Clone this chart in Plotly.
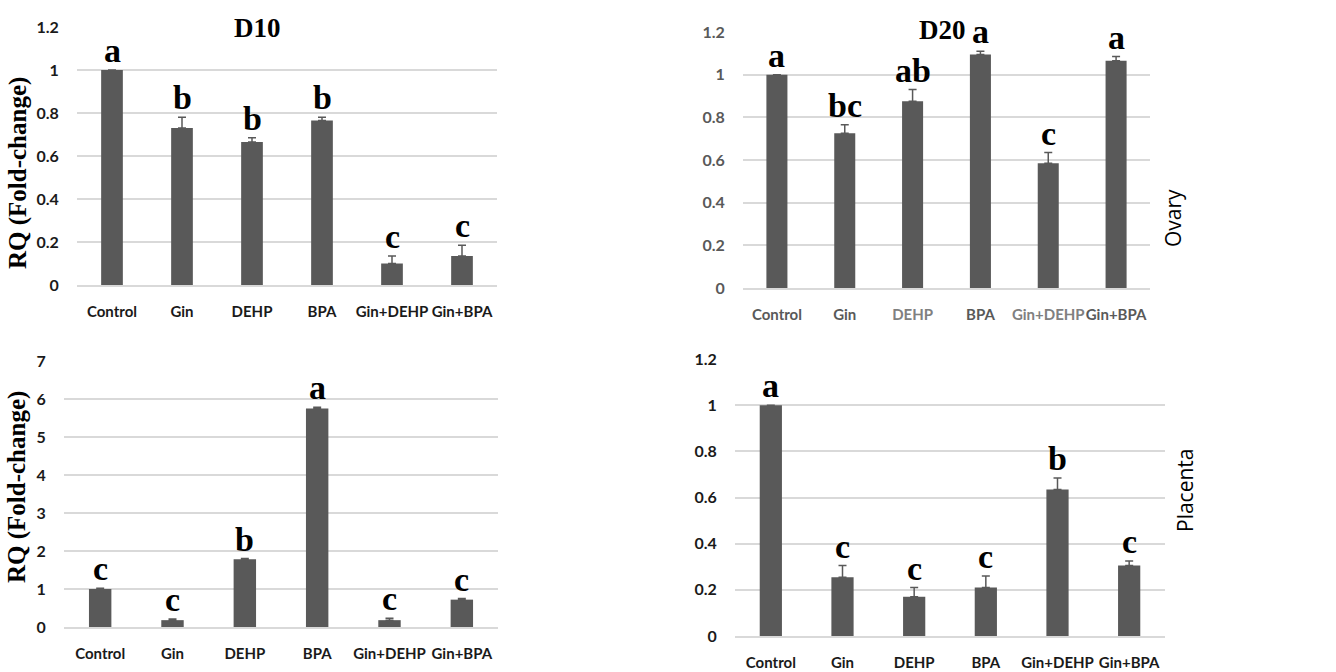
import plotly.graph_objects as go

W, H = 1336, 672

categories = ["Control", "Gin", "DEHP", "BPA", "Gin+DEHP", "Gin+BPA"]

ovary_d10 = [1.0, 0.73, 0.665, 0.765, 0.10, 0.135]
ovary_d10_err = [0.0, 0.05, 0.02, 0.015, 0.035, 0.05]
ovary_d10_letters = ["a", "b", "b", "b", "c", "c"]

ovary_d20 = [1.0, 0.725, 0.875, 1.095, 0.585, 1.065]
ovary_d20_err = [0.0, 0.04, 0.055, 0.015, 0.05, 0.02]
ovary_d20_letters = ["a", "bc", "ab", "a", "c", "a"]

placenta_d10 = [1.0, 0.18, 1.78, 5.75, 0.18, 0.72]
placenta_d10_err = [0.02, 0.03, 0.02, 0.03, 0.05, 0.03]
placenta_d10_letters = ["c", "c", "b", "a", "c", "c"]

placenta_d20 = [1.0, 0.255, 0.17, 0.21, 0.635, 0.305]
placenta_d20_err = [0.0, 0.05, 0.04, 0.05, 0.05, 0.02]
placenta_d20_letters = ["a", "c", "c", "c", "b", "c"]

yticks_small = [0, 0.2, 0.4, 0.6, 0.8, 1, 1.2]
yticks_big = [0, 1, 2, 3, 4, 5, 6, 7]

BAR = "#595959"
GRID = "#d9d9d9"

# panel pixel boxes: (x0, x1, y_top, y_bottom)
panels = [
    dict(vals=ovary_d10, err=ovary_d10_err, letters=ovary_d10_letters,
         box=(77, 497, 27, 285), yr=[0, 1.2], ticks=yticks_small, tickcolor="#1a1a1a",
         xcolors=["#1a1a1a"] * 6),
    dict(vals=ovary_d20, err=ovary_d20_err, letters=ovary_d20_letters,
         box=(743, 1150, 32, 288), yr=[0, 1.2], ticks=yticks_small, tickcolor="#595959",
         xcolors=["#595959", "#595959", "#808080", "#595959", "#808080", "#595959"]),
    dict(vals=placenta_d10, err=placenta_d10_err, letters=placenta_d10_letters,
         box=(64, 498, 361, 627), yr=[0, 7], ticks=yticks_big, tickcolor="#1a1a1a",
         xcolors=["#1a1a1a"] * 6),
    dict(vals=placenta_d20, err=placenta_d20_err, letters=placenta_d20_letters,
         box=(735, 1165, 359, 636), yr=[0, 1.2], ticks=yticks_small, tickcolor="#1a1a1a",
         xcolors=["#1a1a1a"] * 6),
]

fig = go.Figure()
layout = dict(
    width=W, height=H,
    margin=dict(l=0, r=0, t=0, b=0),
    paper_bgcolor="white", plot_bgcolor="white",
    showlegend=False, bargap=0.69,
)
annotations = []

for i, p in enumerate(panels, start=1):
    sfx = "" if i == 1 else str(i)
    x0, x1, yt, yb = p["box"]
    fig.add_trace(go.Bar(
        x=categories, y=p["vals"],
        marker=dict(color=BAR, line=dict(width=0)),
        error_y=dict(type="data", symmetric=False, array=p["err"],
                     arrayminus=[0] * len(p["err"]),
                     color=BAR, thickness=1.5, width=4),
        xaxis="x" + sfx, yaxis="y" + sfx,
    ))
    ticktext = [f'<span style="color:{c}">{t}</span>' for t, c in zip(categories, p["xcolors"])]
    layout["xaxis" + sfx] = dict(
        domain=[x0 / W, x1 / W], anchor="y" + sfx, automargin=False,
        tickmode="array", tickvals=categories, ticktext=ticktext, tickangle=0,
        ticks="outside", ticklen=12, tickcolor="rgba(0,0,0,0)",
        showline=True, linecolor=GRID, linewidth=1.5,
        showgrid=False,
        tickfont=dict(family="Lato", size=15, color="#1a1a1a", weight="bold"),
    )
    layout["yaxis" + sfx] = dict(
        domain=[1 - yb / H, 1 - yt / H], anchor="x" + sfx, automargin=False,
        range=p["yr"], tickmode="array", tickvals=p["ticks"],
        ticktext=[f"{v:g}" for v in p["ticks"]],
        showgrid=True, gridcolor=GRID, gridwidth=1.5,
        zeroline=False, showline=False,
        ticks="outside", ticklen=14, tickcolor="rgba(0,0,0,0)",
        tickfont=dict(family="Lato", size=16, color=p["tickcolor"], weight="bold"),
    )
    for c, v, e, L in zip(categories, p["vals"], p["err"], p["letters"]):
        annotations.append(dict(
            x=c, y=v + e, xref="x" + sfx, yref="y" + sfx,
            text=f"<b>{L}</b>", showarrow=False, yanchor="bottom", yshift=-1,
            font=dict(family="Liberation Serif", size=34, color="#000000"),
        ))


def side(x, y, text, font, angle=0):
    return dict(x=x / W, y=1 - y / H, xref="paper", yref="paper", text=text,
                showarrow=False, textangle=angle, xanchor="center", yanchor="middle",
                font=font)


serif_title = dict(family="Liberation Serif", size=27, color="#000000")
serif_axis = dict(family="Liberation Serif", size=25, color="#000000")
sans_side = dict(family="Open Sans", size=21, color="#000000")

annotations += [
    side(257, 28, "<b>D10</b>", serif_title),
    side(942, 30, "<b>D20</b>", serif_title),
    side(18, 173, "<b>RQ (Fold-change)</b>", serif_axis, -90),
    side(17, 487, "<b>RQ (Fold-change)</b>", serif_axis, -90),
    side(1173, 218, "Ovary", sans_side, -90),
    side(1185, 490, "Placenta", sans_side, -90),
]
layout["annotations"] = annotations
fig.update_layout(**layout)
fig.write_html("out.html", config={"displayModeBar": False},
               post_script="document.body.style.margin='0';document.body.style.padding='0';")
